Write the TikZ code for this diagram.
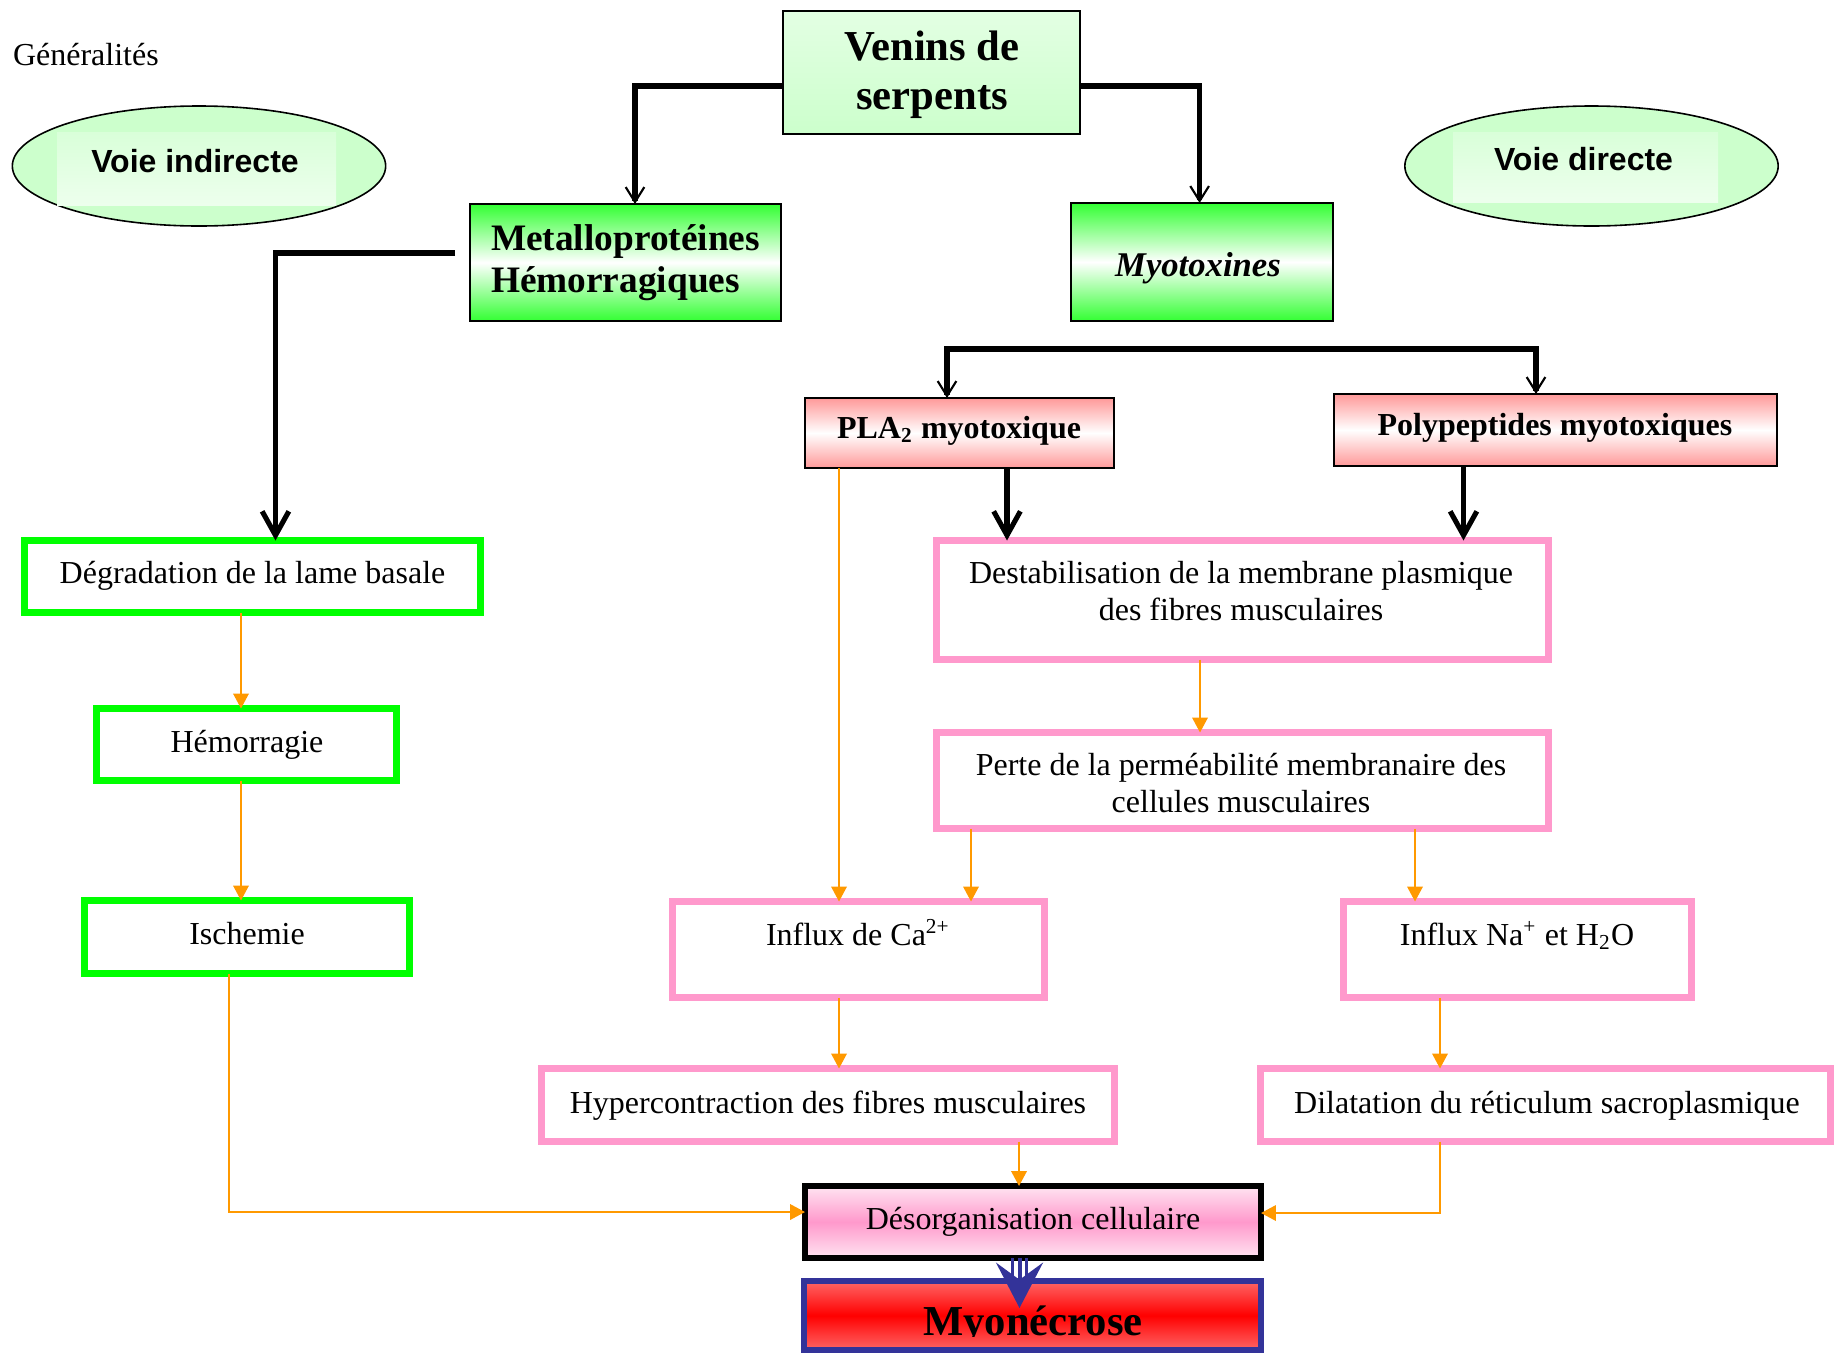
\documentclass[tikz,border=0pt]{standalone}
\usepackage{fontspec}
\setmainfont{Liberation Serif}
\newfontfamily\arialfont{Liberation Sans}
\usetikzlibrary{arrows.meta,shapes.geometric}

\definecolor{vertvif}{HTML}{00FF00}
\definecolor{vertgrad}{HTML}{33FF33}
\definecolor{vertpale}{HTML}{CCFFCC}
\definecolor{rose}{HTML}{FF99CC}
\definecolor{rosepale}{HTML}{FFE4F1}
\definecolor{saumon}{HTML}{FF9999}
\definecolor{rougeclair}{HTML}{FF6666}
\definecolor{orangefl}{HTML}{FF9900}
\definecolor{bleu}{HTML}{333399}

% box given by the corners of its border line: name, style, x1, y1, x2, y2
\newcommand\mkbox[6]{%
  \node[#2, minimum width={(#5-#3)*0.375pt}, minimum height={(#6-#4)*0.375pt}]
    (#1) at ({(#3+#5)/2},{(#4+#6)/2}) {};}

\tikzset{
  nb/.style={inner sep=0pt, outer sep=0pt, rectangle},
  thinbox/.style={nb, draw=black, line width=0.75pt},
  greenbox/.style={nb, draw=vertvif, line width=2.625pt, fill=white},
  pinkbox/.style={nb, draw=rose, line width=2.625pt, fill=white},
  greengrad/.style={thinbox, top color=vertgrad, bottom color=vertgrad, middle color=white},
  redgrad/.style={thinbox, top color=saumon, bottom color=saumon, middle color=white},
  txt/.style={inner sep=0pt, outer sep=0pt, anchor=base, font=\fontsize{12}{14}\selectfont},
  txtb/.style={txt, font=\fontsize{12}{14}\selectfont\bfseries},
  oval/.style={ellipse, draw=black, line width=0.6pt, fill=vertpale, inner sep=0pt,
    minimum width=140pt, minimum height=45pt},
  ovaltxt/.style={txt, font=\arialfont\fontsize{12}{14}\selectfont\bfseries},
  blk/.style={line width=1.9pt, line join=miter},
  barb/.style={blk, -{Straight Barb[length=5.6pt,width=7pt,line width=0.8pt]}},
  bigbarb/.style={blk, -{Straight Barb[length=9pt,width=10pt]}},
  oarr/.style={draw=orangefl, line width=0.75pt, -{Triangle[length=5.6pt,width=5.8pt]}},
}

\begin{document}
\begin{tikzpicture}[x=0.375pt, y=-0.375pt]
\useasboundingbox (0,0) rectangle (1834,1353);
\fill[white] (0,0) rectangle (1834,1353);

% title
\node[txt, anchor=base west] (gen) at (13,65) {Généralités};

% the two pathways
\node[oval] (vind) at (199,166) {};
\fill[top color=vertpale!75!white, bottom color=vertpale!35!white] (57,132) rectangle (336,205);
\node[ovaltxt] (vindT) at (195,172) {Voie indirecte};
\node[oval] (vdir) at (1591.5,166) {};
\fill[top color=vertpale!75!white, bottom color=vertpale!35!white] (1453,132) rectangle (1718,202);
\node[ovaltxt] (vdirT) at (1583.5,170) {Voie directe};

% venoms and their two families of toxins
\mkbox{venins}{thinbox, top color=vertpale!55!white, bottom color=vertpale}{783}{11}{1080}{134}
\node[txtb, font=\fontsize{16}{18}\selectfont\bfseries] (veninsT1) at (932,60) {Venins de};
\node[txtb, font=\fontsize{16}{18}\selectfont\bfseries] (veninsT2) at (932,109) {serpents};

\mkbox{metallo}{greengrad}{470}{204}{781}{321}
\node[txtb, anchor=base west, font=\fontsize{14}{16}\selectfont\bfseries] (metalloT1) at (491,250) {Metalloprotéines};
\node[txtb, anchor=base west, font=\fontsize{14}{16}\selectfont\bfseries] (metalloT2) at (491,292) {Hémorragiques};

\mkbox{myotox}{greengrad}{1071}{203}{1333}{321}
\node[txtb, font=\fontsize{13}{15}\selectfont\bfseries\itshape] (myotoxT) at (1198,276) {Myotoxines};

\mkbox{pla}{redgrad}{805}{398}{1114}{468}
\node[txtb] (plaT) at (959,438) {PLA\textsubscript{2} myotoxique};
\mkbox{poly}{redgrad}{1334}{394}{1777}{466}
\node[txtb] (polyT) at (1555,435) {Polypeptides myotoxiques};

% indirect pathway
\mkbox{degr}{greenbox}{24.5}{540.5}{480.5}{612.5}
\node[txt] (degrT) at (252.5,583) {Dégradation de la lame basale};
\mkbox{hemo}{greenbox}{96.5}{708.5}{396.5}{780.5}
\node[txt] (hemoT) at (247,752) {Hémorragie};
\mkbox{isch}{greenbox}{84.5}{900.5}{409.5}{973.5}
\node[txt] (ischT) at (247,944) {Ischemie};

% direct pathway
\mkbox{destab}{pinkbox}{936}{540.5}{1548}{659.5}
\node[txt] (destabT1) at (1241,583) {Destabilisation de la membrane plasmique};
\node[txt] (destabT2) at (1241,620) {des fibres musculaires};
\mkbox{perte}{pinkbox}{936}{732.5}{1548}{828.5}
\node[txt] (perteT1) at (1241,775) {Perte de la perméabilité membranaire des};
\node[txt] (perteT2) at (1241,812) {cellules musculaires};
\mkbox{ca}{pinkbox}{672.5}{901.5}{1044.5}{997.5}
\node[txt] (caT) at (858,945) {Influx de Ca\textsuperscript{2+}};
\mkbox{na}{pinkbox}{1343.5}{901.5}{1691.5}{997.5}
\node[txt] (naT) at (1517,945) {Influx Na\textsuperscript{+} et H\textsubscript{2}O};
\mkbox{hyper}{pinkbox}{541.5}{1068.5}{1114.5}{1141.5}
\node[txt] (hyperT) at (828,1113) {Hypercontraction des fibres musculaires};
\mkbox{dila}{pinkbox}{1260}{1068.5}{1830.5}{1141.5}
\node[txt] (dilaT) at (1547,1113) {Dilatation du réticulum sacroplasmique};

% common outcome
\mkbox{desorg}{nb, draw=black, line width=2.25pt, top color=rosepale, bottom color=rosepale, middle color=rose}{805}{1186}{1261}{1258}
\node[txt] (desorgT) at (1033,1229) {Désorganisation cellulaire};
\mkbox{myon}{nb, draw=bleu, line width=2.25pt, top color=rougeclair, bottom color=rougeclair, middle color=red}{804}{1281}{1261}{1350}
\begin{scope}
  \clip (806,1283) rectangle (1259,1336.5);
  \node[txtb, font=\fontsize{16}{18}\selectfont\bfseries] (myonT) at (1033,1335) {Myonécrose};
\end{scope}

% black connectors
\draw[barb] (venins.west |- 0,86) -| (metallo.north -| 635,0);
\draw[barb] (venins.east |- 0,86) -| (myotox.north -| 1199.6,0);
\coordinate (metalloOut) at (455,253);
\draw[bigbarb] (metalloOut) -| (degr.north -| 275.5,0);
\coordinate (barMid) at (1240,349);
\draw[blk, {Straight Barb[length=5.6pt,width=7pt,line width=0.8pt]}-{Straight Barb[length=5.6pt,width=7pt,line width=0.8pt]}]
  (pla.north -| 947,0) |- (barMid) -| (poly.north -| 1536,0);
\draw[bigbarb] (pla.south -| 1007,0) -- (destab.north -| 1007,0);
\draw[bigbarb] (poly.south -| 1463.5,0) -- (destab.north -| 1463.5,0);

% orange connectors
\draw[oarr] (degr.south -| 241,0) -- (hemo.north -| 241,0);
\draw[oarr] (hemo.south -| 241,0) -- (isch.north -| 241,0);
\draw[oarr] (isch.south -| 229,0) |- (desorg.west |- 0,1212);
\draw[oarr] (pla.south -| 839,0) -- (ca.north -| 839,0);
\draw[oarr] (destab.south -| 1200,0) -- (perte.north -| 1200,0);
\draw[oarr] (perte.south -| 971,0) -- (ca.north -| 971,0);
\draw[oarr] (perte.south -| 1415,0) -- (na.north -| 1415,0);
\draw[oarr] (ca.south -| 839,0) -- (hyper.north -| 839,0);
\draw[oarr] (na.south -| 1440,0) -- (dila.north -| 1440,0);
\draw[oarr] (hyper.south -| 1019,0) -- (desorg.north -| 1019,0);
\draw[oarr] (dila.south -| 1440,0) |- (desorg.east |- 0,1213);

% striped blue arrow into the necrosis box
\coordinate (necTip) at (1019.5,1308);
\draw[bleu, line width=1.1pt] (desorg.south -| 1012.5,0) -- (1012.5,1276);
\draw[bleu, line width=1.1pt] (desorg.south -| 1026.5,0) -- (1026.5,1276);
\draw[bleu, line width=1.5pt, line join=miter,
  -{Stealth[length=17pt,width=17.6pt,inset=6.4pt]}] (desorg.south -| 1019.5,0) -- (necTip);
\end{tikzpicture}
\end{document}
